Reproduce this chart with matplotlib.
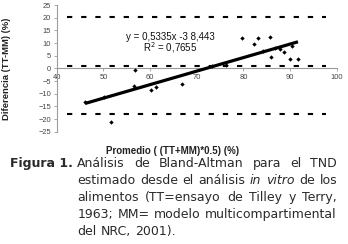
import numpy as np
import matplotlib
matplotlib.use('Agg')
import matplotlib.pyplot as plt

# Bland-Altman points: mean of the two methods vs difference
promedio = [46.1, 50.1, 51.6, 56.6, 56.8, 60.1, 61.2, 66.8, 73.3, 76.2, 79.6,
            82.3, 83.2, 84.1, 85.6, 85.9, 86.7, 87.8, 88.7, 90.0, 90.4, 91.7]
diferencia = [-13.1, -11.5, -21.2, -6.8, -0.5, -8.6, -7.3, -6.0, 1.0, 1.3, 12.1,
              9.6, 11.9, 6.9, 12.5, 4.4, 8.1, 7.7, 6.3, 3.7, 8.7, 3.7]

# regression reported in the chart
pendiente = 0.5335
intercepto = -38.443
r2 = 0.7655

# mean bias and limits of agreement
limites = [20.1, 1.1, -17.9]
lim_x = [42.2, 97.6]

xticks = [40, 50, 60, 70, 80, 90, 100]
yticks = [-25, -20, -15, -10, -5, 0, 5, 10, 15, 20, 25]

W, H = 348, 244
plt.rcParams['lines.scale_dashes'] = False
fig = plt.figure(figsize=(W / 100, H / 100), dpi=100)
fig.patch.set_facecolor('white')

ax = fig.add_axes([56.7 / W, 1 - 131.7 / H, 280 / W, 126.7 / H])
ax.set_xlim(40, 100)
ax.set_ylim(-25, 25)

for v in limites:
    ax.plot(lim_x, [v, v], color='black', lw=1.5, dashes=(3.8, 6.4), zorder=2)

xr = np.array([min(promedio), max(promedio)])
ax.plot(xr, pendiente * xr + intercepto, color='black', lw=2.3,
        solid_capstyle='butt', zorder=3)
ax.scatter(promedio, diferencia, marker='D', s=5, color='black', zorder=4,
           linewidths=0)

ax.text(64.3, 12.5, 'y = 0,5335x -3 8,443', ha='center', va='center',
        fontsize=7, family='Liberation Sans', color='#111111')
ax.text(64.3, 8.2, 'R$^2$ = 0,7655', ha='center', va='center',
        fontsize=7, family='Liberation Sans', color='#111111')

for s in ['top', 'right']:
    ax.spines[s].set_visible(False)
ax.spines['bottom'].set_position(('data', 0))
ax.spines['left'].set_color('#9a9a9a')
ax.spines['bottom'].set_color('#9a9a9a')
ax.spines['left'].set_linewidth(0.8)
ax.spines['bottom'].set_linewidth(0.8)
ax.set_xticks(xticks)
ax.set_yticks(yticks)
ax.tick_params(axis='both', direction='out', length=2.5, width=0.6,
               color='#9a9a9a', labelsize=5.4, labelcolor='#444444', pad=1.5)
for lab in ax.get_xticklabels() + ax.get_yticklabels():
    lab.set_family('Liberation Sans')

fig.text(172.5 / W, 1 - 150.5 / H, 'Promedio ( (TT+MM)*0.5) (%)', ha='center',
         va='center', fontsize=7, fontweight='bold', family='Liberation Sans',
         color='#222222')
fig.text(7 / W, 1 - 69 / H, 'Diferencia (TT-MM) (%)', ha='center', va='center',
         rotation=90, fontsize=6.8, fontweight='bold', family='Liberation Sans',
         color='#222222')

# caption, justified between x0 and x1
renderer = fig.canvas.get_renderer()
cap_size = 9.0
cap_color = '#2a2a2a'
x0, x1 = 77.3, 337
lineas = [
    [('Análisis', 'normal'), ('de', 'normal'), ('Bland-Altman', 'normal'),
     ('para', 'normal'), ('el', 'normal'), ('TND', 'normal')],
    [('estimado', 'normal'), ('desde', 'normal'), ('el', 'normal'),
     ('análisis', 'normal'), ('in', 'italic'), ('vitro', 'italic'),
     ('de', 'normal'), ('los', 'normal')],
    [('alimentos', 'normal'), ('(TT=ensayo', 'normal'), ('de', 'normal'),
     ('Tilley', 'normal'), ('y', 'normal'), ('Terry,', 'normal')],
    [('1963;', 'normal'), ('MM=', 'normal'), ('modelo', 'normal'),
     ('multicompartimental', 'normal')],
    [('del', 'normal'), ('NRC,', 'normal'), ('2001).', 'normal')],
]
baselines = [167, 184, 201, 218, 235]

fig.text(73 / W, 1 - baselines[0] / H, 'Figura 1.', ha='right', va='baseline',
         fontsize=cap_size, fontweight='bold', family='DejaVu Sans',
         color=cap_color)

for i, (linea, yb) in enumerate(zip(lineas, baselines)):
    textos = []
    anchos = []
    for palabra, estilo in linea:
        t = fig.text(0, 1 - yb / H, palabra, ha='left', va='baseline',
                     fontsize=cap_size, style=estilo, family='DejaVu Sans',
                     color=cap_color)
        textos.append(t)
        anchos.append(t.get_window_extent(renderer).width)
    if i < len(lineas) - 1:
        gap = (x1 - x0 - sum(anchos)) / (len(anchos) - 1)
    else:
        gap = renderer.points_to_pixels(cap_size) * 0.32
    x = x0
    for t, w in zip(textos, anchos):
        t.set_x(x / W)
        x += w + gap

fig.savefig('out.png', dpi=100, facecolor='white')
